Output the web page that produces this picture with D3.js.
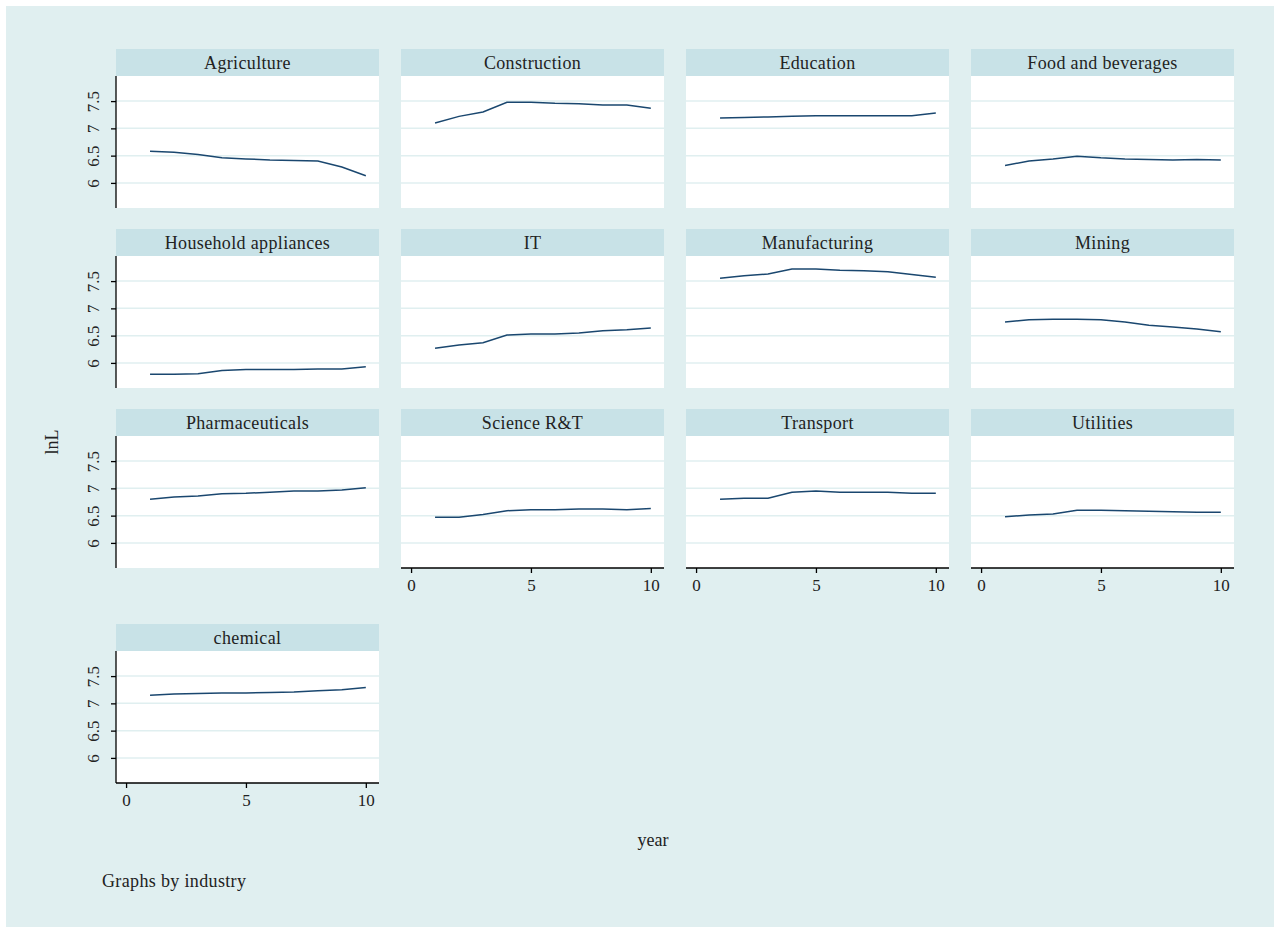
<!DOCTYPE html>
<html>
<head>
<meta charset="utf-8">
<script src="https://cdn.jsdelivr.net/npm/d3@7"></script>
<style>
  body { margin: 0; background: #fff; }
  text { font-family: "Liberation Serif", "DejaVu Serif", serif; fill: #222; }
</style>
</head>
<body>
<script>
// data
var years = [1, 2, 3, 4, 5, 6, 7, 8, 9, 10];
var yTicks = [6, 6.5, 7, 7.5];
var xTicks = [0, 5, 10];

var agriculture = [6.58, 6.56, 6.52, 6.46, 6.44, 6.42, 6.41, 6.40, 6.29, 6.13];
var construction = [7.10, 7.22, 7.30, 7.48, 7.48, 7.46, 7.45, 7.43, 7.43, 7.37];
var education = [7.19, 7.20, 7.21, 7.22, 7.23, 7.23, 7.23, 7.23, 7.23, 7.28];
var foodBeverages = [6.32, 6.40, 6.44, 6.49, 6.46, 6.44, 6.43, 6.42, 6.43, 6.42];
var household = [5.79, 5.79, 5.80, 5.86, 5.88, 5.88, 5.88, 5.89, 5.89, 5.93];
var it = [6.27, 6.33, 6.37, 6.51, 6.53, 6.53, 6.55, 6.59, 6.61, 6.64];
var manufacturing = [7.55, 7.60, 7.63, 7.72, 7.72, 7.70, 7.69, 7.67, 7.62, 7.57];
var mining = [6.75, 6.79, 6.80, 6.80, 6.79, 6.75, 6.69, 6.66, 6.62, 6.57];
var pharma = [6.80, 6.84, 6.86, 6.90, 6.91, 6.93, 6.95, 6.95, 6.97, 7.01];
var science = [6.47, 6.47, 6.52, 6.59, 6.61, 6.61, 6.62, 6.62, 6.61, 6.63];
var transport = [6.80, 6.82, 6.82, 6.93, 6.95, 6.93, 6.93, 6.93, 6.91, 6.91];
var utilities = [6.48, 6.51, 6.53, 6.60, 6.60, 6.59, 6.58, 6.57, 6.56, 6.56];
var chemical = [7.15, 7.17, 7.18, 7.19, 7.19, 7.20, 7.21, 7.23, 7.25, 7.29];

var industries = [
  { name: "Agriculture", values: agriculture },
  { name: "Construction", values: construction },
  { name: "Education", values: education },
  { name: "Food and beverages", values: foodBeverages },
  { name: "Household appliances", values: household },
  { name: "IT", values: it },
  { name: "Manufacturing", values: manufacturing },
  { name: "Mining", values: mining },
  { name: "Pharmaceuticals", values: pharma },
  { name: "Science R&T", values: science },
  { name: "Transport", values: transport },
  { name: "Utilities", values: utilities },
  { name: "chemical", values: chemical }
];

var W = 1274, H = 927;
var svg = d3.select("body").append("svg").attr("width", W).attr("height", H);

svg.append("rect").attr("x", 6).attr("y", 6).attr("width", W - 6).attr("height", H - 6)
  .attr("fill", "#e0eff0");

// panel geometry
var colX = [116, 401, 686, 971],
  rowY = [49, 229, 409, 624],
  pw = 263, stripH = 27, ph = 132;

var x = d3.scaleLinear().domain([-0.42, 10.55]).range([0, pw]);
var y = d3.scaleLinear().domain([5.54, 7.96]).range([ph, 0]);

var line = d3.line()
  .x(function (d, i) { return x(years[i]); })
  .y(function (d) { return y(d); });

var tickFont = function (sel) {
  sel.style("font-size", "17px").style("font-family", "Liberation Serif, serif").attr("fill", "#222");
};

industries.forEach(function (ind, k) {
  var col = k % 4, row = Math.floor(k / 4);
  var g = svg.append("g").attr("transform", "translate(" + colX[col] + "," + rowY[row] + ")");

  // strip
  g.append("rect").attr("width", pw).attr("height", stripH).attr("fill", "#c8e2e7");
  g.append("text").attr("x", pw / 2).attr("y", stripH / 2 + 6)
    .attr("text-anchor", "middle").style("font-size", "18px").style("letter-spacing", "0.35px")
    .text(ind.name);

  var p = g.append("g").attr("transform", "translate(0," + stripH + ")");
  p.append("rect").attr("width", pw).attr("height", ph).attr("fill", "#fff");

  // grid
  p.selectAll(".grid").data(yTicks).enter().append("line")
    .attr("x1", 0).attr("x2", pw)
    .attr("y1", function (d) { return y(d); }).attr("y2", function (d) { return y(d); })
    .attr("stroke", "#e0eff0").attr("stroke-width", 1.5);

  p.append("path").attr("d", line(ind.values))
    .attr("fill", "none").attr("stroke", "#1a476f").attr("stroke-width", 1.5);

  // y axis only in first column
  if (col === 0) {
    var ya = p.append("g").call(d3.axisLeft(y).tickValues(yTicks).tickSize(5).tickFormat(d3.format("")));
    ya.select(".domain").attr("d", "M0,0V" + ph).attr("stroke", "#000").attr("stroke-width", 1.3);
    ya.selectAll(".tick line").attr("stroke", "#000").attr("stroke-width", 1.3);
    ya.selectAll(".tick text")
      .attr("x", null).attr("dy", null)
      .attr("transform", "translate(-17,0) rotate(-90)")
      .attr("text-anchor", "middle")
      .call(tickFont);
  }

  // x axis on the bottom panel of each column
  var bottom = (k >= 9 && k <= 11) || k === 12;
  if (bottom) {
    var xa = p.append("g").attr("transform", "translate(0," + ph + ")")
      .call(d3.axisBottom(x).tickValues(xTicks).tickSize(5));
    xa.select(".domain").attr("d", "M0,0H" + pw).attr("stroke", "#000").attr("stroke-width", 1.3);
    xa.selectAll(".tick line").attr("stroke", "#000").attr("stroke-width", 1.3);
    xa.selectAll(".tick text").attr("y", 11).call(tickFont);
  }
});

// titles
svg.append("text").attr("transform", "translate(58,442) rotate(-90)")
  .attr("text-anchor", "middle").style("font-size", "18px").text("lnL");
svg.append("text").attr("x", 653).attr("y", 846)
  .attr("text-anchor", "middle").style("font-size", "18px").text("year");
svg.append("text").attr("x", 102).attr("y", 887)
  .style("font-size", "18px").style("letter-spacing", "0.35px").text("Graphs by industry");
</script>
</body>
</html>
